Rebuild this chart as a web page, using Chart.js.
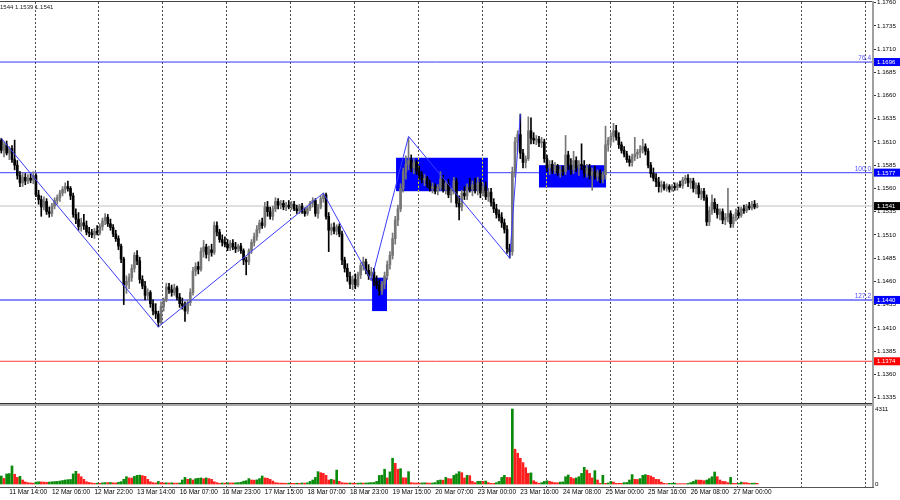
<!DOCTYPE html>
<html><head><meta charset="utf-8">
<script src="https://cdn.jsdelivr.net/npm/chart.js@4/dist/chart.umd.min.js"></script>
<style>
html,body{margin:0;padding:0;background:#fff;width:900px;height:500px;overflow:hidden}
#c1{position:absolute;left:0;top:0}
#c2{position:absolute;left:0;top:404px}
</style></head><body>
<canvas id="c1" width="900" height="404"></canvas>
<canvas id="c2" width="900" height="96"></canvas>
<script>
// ---------- DATA ----------
const slotCount = 328;
const daySlots = [13,37,61,85,109,133,157,181,205,229,253,277,301,325];
const tickSlots = [3,19,35,51,67,83,99,115,131,147,163,179,195,211,227,243,259,275];
const tickLabels = ['11 Mar 14:00','12 Mar 06:00','12 Mar 22:00','13 Mar 14:00','16 Mar 07:00','16 Mar 23:00','17 Mar 15:00','18 Mar 07:00','18 Mar 23:00','19 Mar 15:00','20 Mar 07:00','23 Mar 00:00','23 Mar 16:00','24 Mar 08:00','25 Mar 00:00','25 Mar 16:00','26 Mar 08:00','27 Mar 00:00'];
const yTicks = [1.1335,1.1360,1.1385,1.1410,1.1435,1.1460,1.1485,1.1510,1.1535,1.1560,1.1585,1.1610,1.1635,1.1660,1.1685,1.1710,1.1735,1.1760];
const priceMin = 1.13291, priceMax = 1.17606;
const volTicks = [0, 4311];
const volMin = -172, volMax = 4483;

const opens = [
1.1612,1.1601,1.1607,1.1598,1.1603,1.1591,1.1585,1.1574,1.1566,1.1572,
1.1568,1.1571,1.1569,1.1574,1.1553,1.1548,1.1540,1.1546,1.1535,1.1533,
1.1541,1.1547,1.1550,1.1555,1.1559,1.1562,1.1560,1.1552,1.1532,1.1527,
1.1519,1.1523,1.1520,1.1513,1.1512,1.1510,1.1514,1.1512,1.1519,1.1525,
1.1529,1.1522,1.1518,1.1511,1.1506,1.1498,1.1484,1.1456,1.1460,1.1464,
1.1474,1.1488,1.1482,1.1462,1.1455,1.1445,1.1448,1.1436,1.1428,1.1425,
1.1416,1.1433,1.1440,1.1454,1.1451,1.1448,1.1453,1.1443,1.1436,1.1434,
1.1428,1.1437,1.1448,1.1471,1.1476,1.1473,1.1492,1.1497,1.1489,1.1494,
1.1491,1.1520,1.1513,1.1505,1.1502,1.1500,1.1496,1.1501,1.1497,1.1495,
1.1498,1.1493,1.1483,1.1481,1.1493,1.1502,1.1508,1.1516,1.1523,1.1520,
1.1540,1.1535,1.1530,1.1538,1.1546,1.1542,1.1544,1.1540,1.1542,1.1540,
1.1543,1.1538,1.1536,1.1541,1.1535,1.1533,1.1539,1.1544,1.1547,1.1533,
1.1540,1.1549,1.1553,1.1530,1.1515,1.1518,1.1514,1.1519,1.1511,1.1483,
1.1474,1.1465,1.1457,1.1462,1.1456,1.1467,1.1477,1.1481,1.1472,1.1466,
1.1470,1.1460,1.1456,1.1450,1.1457,1.1466,1.1478,1.1488,1.1506,1.1526,
1.1538,1.1560,1.1578,1.1586,1.1590,1.1582,1.1588,1.1579,1.1574,1.1569,
1.1571,1.1565,1.1560,1.1562,1.1557,1.1561,1.1570,1.1559,1.1565,1.1553,
1.1557,1.1568,1.1544,1.1540,1.1555,1.1552,1.1561,1.1559,1.1564,1.1558,
1.1566,1.1555,1.1562,1.1551,1.1556,1.1545,1.1538,1.1532,1.1529,1.1523,
1.1516,1.1495,1.1492,1.1578,1.1610,1.1618,1.1598,1.1588,1.1592,1.1622,
1.1614,1.1612,1.1613,1.1609,1.1610,1.1592,1.1582,1.1586,1.1579,1.1584,
1.1577,1.1580,1.1578,1.1596,1.1585,1.1580,1.1590,1.1582,1.1586,1.1584,
1.1576,1.1582,1.1574,1.1578,1.1573,1.1577,1.1570,1.1575,1.1607,1.1612,
1.1616,1.1622,1.1615,1.1607,1.1601,1.1597,1.1591,1.1588,1.1594,1.1597,
1.1599,1.1602,1.1605,1.1600,1.1585,1.1576,1.1571,1.1567,1.1562,1.1564,
1.1560,1.1562,1.1559,1.1562,1.1561,1.1564,1.1563,1.1569,1.1571,1.1566,
1.1568,1.1560,1.1563,1.1554,1.1557,1.1550,1.1524,1.1536,1.1545,1.1538,
1.1532,1.1535,1.1526,1.1529,1.1533,1.1522,1.1529,1.1534,1.1531,1.1538,
1.1536,1.1541,1.1539,1.1543,1.1540];

const highs = [
1.1614,1.1610,1.1611,1.1605,1.1606,1.1612,1.1590,1.1578,1.1577,1.1576,
1.1575,1.1576,1.1578,1.1576,1.1558,1.1552,1.1551,1.1549,1.1540,1.1544,
1.1550,1.1553,1.1558,1.1562,1.1566,1.1568,1.1562,1.1555,1.1538,1.1534,
1.1528,1.1532,1.1525,1.1518,1.1516,1.1517,1.1520,1.1522,1.1528,1.1533,
1.1532,1.1527,1.1521,1.1515,1.1509,1.1500,1.1486,1.1466,1.1468,1.1478,
1.1491,1.1493,1.1486,1.1466,1.1460,1.1452,1.1450,1.1440,1.1436,1.1428,
1.1438,1.1442,1.1458,1.1458,1.1456,1.1457,1.1455,1.1447,1.1442,1.1438,
1.1440,1.1452,1.1475,1.1480,1.1481,1.1496,1.1504,1.1500,1.1498,1.1500,
1.1524,1.1524,1.1516,1.1510,1.1508,1.1505,1.1504,1.1505,1.1502,1.1500,
1.1501,1.1495,1.1486,1.1495,1.1505,1.1512,1.1520,1.1526,1.1528,1.1545,
1.1546,1.1540,1.1541,1.1550,1.1549,1.1547,1.1547,1.1545,1.1547,1.1546,
1.1546,1.1542,1.1543,1.1544,1.1539,1.1541,1.1546,1.1550,1.1549,1.1543,
1.1552,1.1555,1.1555,1.1534,1.1522,1.1523,1.1521,1.1522,1.1514,1.1486,
1.1479,1.1470,1.1466,1.1468,1.1470,1.1480,1.1486,1.1484,1.1478,1.1475,
1.1474,1.1466,1.1462,1.1460,1.1470,1.1482,1.1492,1.1512,1.1530,1.1542,
1.1565,1.1582,1.1595,1.1614,1.1596,1.1592,1.1590,1.1584,1.1578,1.1575,
1.1573,1.1569,1.1566,1.1565,1.1564,1.1578,1.1574,1.1568,1.1570,1.1560,
1.1572,1.1571,1.1552,1.1558,1.1562,1.1565,1.1571,1.1568,1.1571,1.1572,
1.1570,1.1566,1.1567,1.1560,1.1560,1.1549,1.1543,1.1537,1.1534,1.1527,
1.1520,1.1500,1.1583,1.1615,1.1622,1.1640,1.1602,1.1595,1.1637,1.1636,
1.1620,1.1617,1.1616,1.1615,1.1613,1.1596,1.1590,1.1590,1.1588,1.1586,
1.1584,1.1584,1.1617,1.1600,1.1592,1.1600,1.1594,1.1590,1.1608,1.1590,
1.1586,1.1586,1.1582,1.1584,1.1580,1.1580,1.1578,1.1627,1.1615,1.1620,
1.1630,1.1628,1.1620,1.1610,1.1605,1.1600,1.1595,1.1597,1.1615,1.1602,
1.1606,1.1613,1.1608,1.1603,1.1588,1.1582,1.1576,1.1572,1.1568,1.1567,
1.1565,1.1564,1.1564,1.1566,1.1566,1.1568,1.1572,1.1574,1.1575,1.1571,
1.1571,1.1566,1.1566,1.1560,1.1560,1.1553,1.1540,1.1553,1.1549,1.1543,
1.1538,1.1538,1.1533,1.1560,1.1536,1.1532,1.1538,1.1540,1.1540,1.1542,
1.1543,1.1545,1.1546,1.1547,1.1544];

const lows = [
1.1598,1.1594,1.1596,1.1591,1.1588,1.1580,1.1570,1.1562,1.1562,1.1564,
1.1565,1.1566,1.1565,1.1551,1.1543,1.1530,1.1537,1.1532,1.1529,1.1530,
1.1538,1.1543,1.1546,1.1552,1.1555,1.1557,1.1548,1.1529,1.1522,1.1515,
1.1514,1.1516,1.1510,1.1508,1.1507,1.1506,1.1510,1.1510,1.1515,1.1521,
1.1519,1.1515,1.1508,1.1503,1.1494,1.1480,1.1435,1.1447,1.1452,1.1460,
1.1470,1.1478,1.1458,1.1452,1.1440,1.1440,1.1432,1.1424,1.1420,1.1411,
1.1414,1.1428,1.1438,1.1447,1.1444,1.1445,1.1440,1.1432,1.1430,1.1417,
1.1425,1.1434,1.1445,1.1466,1.1468,1.1471,1.1486,1.1485,1.1482,1.1487,
1.1489,1.1509,1.1502,1.1498,1.1497,1.1493,1.1493,1.1494,1.1491,1.1492,
1.1490,1.1478,1.1467,1.1478,1.1490,1.1498,1.1504,1.1512,1.1517,1.1518,
1.1530,1.1527,1.1526,1.1535,1.1538,1.1538,1.1537,1.1536,1.1538,1.1537,
1.1536,1.1533,1.1533,1.1533,1.1530,1.1531,1.1536,1.1540,1.1530,1.1528,
1.1538,1.1545,1.1527,1.1492,1.1510,1.1511,1.1510,1.1508,1.1478,1.1470,
1.1460,1.1452,1.1451,1.1452,1.1454,1.1463,1.1472,1.1468,1.1462,1.1461,
1.1455,1.1452,1.1445,1.1446,1.1452,1.1462,1.1473,1.1484,1.1500,1.1520,
1.1535,1.1556,1.1570,1.1580,1.1578,1.1576,1.1575,1.1570,1.1566,1.1563,
1.1561,1.1557,1.1555,1.1554,1.1553,1.1558,1.1556,1.1554,1.1550,1.1545,
1.1554,1.1540,1.1526,1.1536,1.1548,1.1548,1.1556,1.1552,1.1555,1.1553,
1.1550,1.1552,1.1548,1.1546,1.1541,1.1534,1.1528,1.1525,1.1518,1.1512,
1.1490,1.1485,1.1488,1.1572,1.1600,1.1592,1.1582,1.1582,1.1590,1.1608,
1.1608,1.1607,1.1605,1.1604,1.1588,1.1578,1.1575,1.1576,1.1576,1.1574,
1.1572,1.1574,1.1575,1.1580,1.1575,1.1576,1.1578,1.1574,1.1580,1.1572,
1.1572,1.1570,1.1558,1.1570,1.1568,1.1566,1.1566,1.1570,1.1600,1.1606,
1.1610,1.1612,1.1603,1.1598,1.1594,1.1588,1.1584,1.1584,1.1590,1.1592,
1.1593,1.1598,1.1596,1.1582,1.1572,1.1568,1.1562,1.1556,1.1556,1.1558,
1.1557,1.1556,1.1557,1.1558,1.1558,1.1561,1.1560,1.1565,1.1562,1.1560,
1.1556,1.1554,1.1550,1.1548,1.1547,1.1520,1.1520,1.1532,1.1534,1.1528,
1.1526,1.1522,1.1521,1.1524,1.1518,1.1518,1.1525,1.1528,1.1529,1.1533,
1.1534,1.1537,1.1537,1.1538,1.1539];

const closes = [
1.1601,1.1607,1.1598,1.1603,1.1591,1.1585,1.1574,1.1566,1.1572,1.1568,
1.1571,1.1569,1.1574,1.1553,1.1548,1.1540,1.1546,1.1535,1.1533,1.1541,
1.1547,1.1550,1.1555,1.1559,1.1562,1.1560,1.1552,1.1532,1.1527,1.1519,
1.1523,1.1520,1.1513,1.1512,1.1510,1.1514,1.1512,1.1519,1.1525,1.1529,
1.1522,1.1518,1.1511,1.1506,1.1498,1.1484,1.1456,1.1460,1.1464,1.1474,
1.1488,1.1482,1.1462,1.1455,1.1445,1.1448,1.1436,1.1428,1.1425,1.1416,
1.1433,1.1440,1.1454,1.1451,1.1448,1.1453,1.1443,1.1436,1.1434,1.1428,
1.1437,1.1448,1.1471,1.1476,1.1473,1.1492,1.1497,1.1489,1.1494,1.1491,
1.1520,1.1513,1.1505,1.1502,1.1500,1.1496,1.1501,1.1497,1.1495,1.1498,
1.1493,1.1483,1.1481,1.1493,1.1502,1.1508,1.1516,1.1523,1.1520,1.1540,
1.1535,1.1530,1.1538,1.1546,1.1542,1.1544,1.1540,1.1542,1.1540,1.1543,
1.1538,1.1536,1.1541,1.1535,1.1533,1.1539,1.1544,1.1547,1.1533,1.1540,
1.1549,1.1553,1.1530,1.1515,1.1518,1.1514,1.1519,1.1511,1.1483,1.1474,
1.1465,1.1457,1.1462,1.1456,1.1467,1.1477,1.1481,1.1472,1.1466,1.1470,
1.1460,1.1456,1.1450,1.1457,1.1466,1.1478,1.1488,1.1506,1.1526,1.1538,
1.1560,1.1578,1.1586,1.1590,1.1582,1.1588,1.1579,1.1574,1.1569,1.1571,
1.1565,1.1560,1.1562,1.1557,1.1561,1.1570,1.1559,1.1565,1.1553,1.1557,
1.1568,1.1544,1.1540,1.1555,1.1552,1.1561,1.1559,1.1564,1.1558,1.1566,
1.1555,1.1562,1.1551,1.1556,1.1545,1.1538,1.1532,1.1529,1.1523,1.1516,
1.1495,1.1492,1.1578,1.1610,1.1618,1.1598,1.1588,1.1592,1.1622,1.1614,
1.1612,1.1613,1.1609,1.1610,1.1592,1.1582,1.1586,1.1579,1.1584,1.1577,
1.1580,1.1578,1.1596,1.1585,1.1580,1.1590,1.1582,1.1586,1.1584,1.1576,
1.1582,1.1574,1.1578,1.1573,1.1577,1.1570,1.1575,1.1607,1.1612,1.1616,
1.1622,1.1615,1.1607,1.1601,1.1597,1.1591,1.1588,1.1594,1.1597,1.1599,
1.1602,1.1605,1.1600,1.1585,1.1576,1.1571,1.1567,1.1562,1.1564,1.1560,
1.1562,1.1559,1.1562,1.1561,1.1564,1.1563,1.1569,1.1571,1.1566,1.1568,
1.1560,1.1563,1.1554,1.1557,1.1550,1.1524,1.1536,1.1545,1.1538,1.1532,
1.1535,1.1526,1.1529,1.1533,1.1522,1.1529,1.1534,1.1531,1.1538,1.1536,
1.1541,1.1539,1.1543,1.1540,1.1541];

const volumes = [
460,320,580,600,1040,560,380,440,230,120,80,60,50,
110,130,120,110,100,110,130,140,150,170,200,230,250,260,580,730,580,420,270,130,90,60,40,50,
40,70,80,80,90,70,60,100,135,270,420,350,340,440,500,510,480,440,270,130,80,60,150,80,
60,70,60,70,50,50,60,
230,380,270,310,230,310,330,350,310,350,310,270,130,80,40,
60,50,70,60,60,70,80,100,160,
190,310,230,220,240,310,460,350,330,270,170,80,60,50,
50,40,50,40,40,50,40,60,50,70,
150,230,380,710,650,610,500,230,270,230,800,150,80,60,50,
60,50,40,50,60,50,60,70,80,90,
150,490,510,850,350,700,1480,1190,850,880,360,350,710,80,60,
60,50,60,70,60,50,60,80,200,
230,220,380,310,300,500,580,710,650,350,500,480,150,80,
150,160,150,170,80,40,40,80,150,380,500,380,370,
4311,2000,1770,1480,1230,940,615,640,190,110,40,
80,150,190,150,110,80,70,110,120,420,520,380,310,350,420,610,960,800,610,350,770,230,40,500,40,
60,150,110,40,40,40,80,90,230,540,270,260,310,500,540,500,460,380,270,260,110,40,
20,40,45,50,20,20,20,18,40,80,150,230,225,220,190,230,310,420,690,420,230,150,140,80,380,
40,35,40,110,80,75,40,45,50,40];

const zigzagBars = [0,59,121,139,153,191,195];
const zigzagPrices = [1.1614,1.1411,1.1555,1.1461,1.1616,1.1485,1.1640];

const zoneFrom = [139.3,148.3,202.0];
const zoneTo = [144.9,182.8,227.2];
const zoneTop = [1.1464,1.1593,1.1585];
const zoneBottom = [1.1428,1.1557,1.1561];

const fibPrices = [1.1696,1.1577,1.1440];
const fibNames = ['76.4','100.0','127.2'];
const supportPrice = 1.1374;

// ---------- BUILD ----------
const FONT = "'Liberation Sans', Arial, sans-serif";
Chart.defaults.font.family = FONT;
Chart.defaults.color = '#000';

const slots = Array.from({length: slotCount}, (_, i) => i);
const last = closes.length - 1;
const bull = '#767676', bear = '#000000';
const candleColors = closes.map((c, i) => c >= opens[i] ? bull : bear);
const wicks = lows.map((l, i) => [l, highs[i]]);
const bodies = opens.map((o, i) => [o, closes[i]]);
const zigzag = zigzagBars.map((b, i) => ({x: b, y: zigzagPrices[i]}));
const volColors = volumes.map((v, i) => (i === 0 || v > volumes[i - 1]) ? '#0a8a0a' : '#ff1f1f');

function dayLines(chart) {
  const {ctx, chartArea: a, scales: {x}} = chart;
  ctx.save();
  ctx.strokeStyle = '#4a4a4a'; ctx.lineWidth = 1; ctx.setLineDash([2, 2]);
  daySlots.forEach(b => {
    const gx = Math.round(x.getPixelForValue(b - 0.5)) + 0.5;
    ctx.beginPath(); ctx.moveTo(gx, a.top); ctx.lineTo(gx, a.bottom); ctx.stroke();
  });
  ctx.restore();
}

function hline(ctx, x0, x1, yy) { ctx.beginPath(); ctx.moveTo(x0, yy); ctx.lineTo(x1, yy); ctx.stroke(); }

const pricePlugin = {
  id: 'pricePlugin',
  beforeDatasetsDraw(chart) {
    const {ctx, chartArea: a, scales: {x, y}} = chart;
    dayLines(chart);
    ctx.save();
    ctx.beginPath(); ctx.rect(a.left, a.top, a.right - a.left, a.bottom - a.top); ctx.clip();
    // bid line
    ctx.strokeStyle = '#d6d6d6'; ctx.lineWidth = 1.5;
    hline(ctx, a.left, a.right, y.getPixelForValue(closes[last]));
    // fibo levels and support line
    fibPrices.forEach((p, i) => {
      ctx.strokeStyle = i === 0 ? '#3434ff' : '#6262ff'; ctx.lineWidth = i === 0 ? 1 : 1.4;
      hline(ctx, a.left, a.right, y.getPixelForValue(p));
    });
    ctx.strokeStyle = '#ff3a3a'; ctx.lineWidth = 1;
    hline(ctx, a.left, a.right, y.getPixelForValue(supportPrice));
    // zones
    for (let i = 0; i < zoneFrom.length; i++) {
      const x0 = x.getPixelForValue(zoneFrom[i]), x1 = x.getPixelForValue(zoneTo[i]);
      const y0 = y.getPixelForValue(zoneTop[i]), y1 = y.getPixelForValue(zoneBottom[i]);
      ctx.fillStyle = '#0000ff';
      ctx.fillRect(x0, y0, x1 - x0, y1 - y0);
      ctx.strokeStyle = '#f0f000'; ctx.lineWidth = 1; ctx.setLineDash([2, 2]);
      daySlots.forEach(b => {
        const gx = Math.round(x.getPixelForValue(b - 0.5)) + 0.5;
        if (gx > x0 && gx < x1) { ctx.beginPath(); ctx.moveTo(gx, y0); ctx.lineTo(gx, y1); ctx.stroke(); }
      });
      ctx.setLineDash([]);
    }
    ctx.restore();
  },
  afterDatasetsDraw(chart) {
    const {ctx, chartArea: a, scales: {y}} = chart;
    ctx.save();
    ctx.font = '6.5px ' + FONT; ctx.textAlign = 'right'; ctx.textBaseline = 'bottom';
    ctx.fillStyle = '#5050ff';
    fibPrices.forEach((p, i) => {
      ctx.fillText(fibNames[i], a.right - 2, y.getPixelForValue(p) - 0.5);
    });
    ctx.restore();
  },
  afterDraw(chart) {
    const {ctx, chartArea: a, scales: {y}} = chart;
    ctx.save();
    ctx.fillStyle = '#444'; ctx.fillRect(0, 1, a.right + 1, 1);
    ctx.fillStyle = '#333'; ctx.fillRect(0, a.bottom, a.right + 1, 1);
    ctx.fillStyle = '#a0a0a0'; ctx.fillRect(a.right - 1, 1, 2, a.bottom);
    ctx.font = '6px ' + FONT; ctx.textBaseline = 'middle'; ctx.textAlign = 'left';
    const tags = fibPrices.map(p => [p, '#0000ff']).concat([[supportPrice, '#ff0000'], [closes[last], '#000000']]);
    tags.forEach(([p, col]) => {
      const yy = y.getPixelForValue(p);
      ctx.fillStyle = col; ctx.fillRect(a.right + 1, yy - 4, 26, 8);
      ctx.fillStyle = '#fff'; ctx.fillText(p.toFixed(4), a.right + 4, yy + 0.5);
    });
    ctx.fillStyle = '#222'; ctx.textBaseline = 'alphabetic';
    ctx.fillText(highs[last].toFixed(4) + ' ' + lows[last].toFixed(4) + ' ' + closes[last].toFixed(4), -5, 9);
    ctx.restore();
  }
};

const volPlugin = {
  id: 'volPlugin',
  beforeDatasetsDraw(chart) { dayLines(chart); },
  afterDraw(chart) {
    const {ctx, chartArea: a} = chart;
    ctx.save();
    ctx.fillStyle = '#a8a8a8'; ctx.fillRect(0, 0, a.right + 1, 2);
    ctx.fillStyle = '#a0a0a0'; ctx.fillRect(a.right - 1, 0, 2, a.bottom);
    ctx.fillStyle = '#555'; ctx.fillRect(0, a.bottom, a.right + 1, 1);
    ctx.restore();
  }
};

const common = {
  responsive: false, animation: false, devicePixelRatio: 1, events: [],
  plugins: {legend: {display: false}, tooltip: {enabled: false}}
};

new Chart(document.getElementById('c1'), {
  type: 'bar',
  data: {
    labels: slots,
    datasets: [
      {type: 'line', data: zigzag, borderColor: '#3b3bff', borderWidth: 1, pointRadius: 0, tension: 0, order: 0},
      {data: bodies, backgroundColor: candleColors, barThickness: 2, grouped: false, minBarLength: 1, order: 1},
      {data: wicks, backgroundColor: candleColors, barThickness: 1, grouped: false, order: 2}
    ]
  },
  options: Object.assign({}, common, {
    layout: {padding: {top: 2, bottom: 1, left: 0, right: 0}},
    scales: {
      x: {type: 'category', display: false, offset: true},
      y: {
        position: 'right', min: priceMin, max: priceMax,
        afterBuildTicks: s => { s.ticks = yTicks.map(v => ({value: v})); },
        afterFit: s => { s.width = 27; s.paddingTop = 0; s.paddingBottom = 0; },
        ticks: {font: {size: 6.2}, padding: 1, color: '#000', callback: v => Number(v).toFixed(4)},
        grid: {drawOnChartArea: false, drawTicks: true, tickLength: 3, tickColor: '#333', color: '#333'},
        border: {display: false}
      }
    }
  }),
  plugins: [pricePlugin]
});

new Chart(document.getElementById('c2'), {
  type: 'bar',
  data: {
    labels: slots,
    datasets: [{data: volumes, backgroundColor: volColors, barThickness: 2}]
  },
  options: Object.assign({}, common, {
    layout: {padding: {top: 2, bottom: 0, left: 0, right: 0}},
    scales: {
      x: {
        type: 'category', offset: true,
        grid: {display: false, drawTicks: false}, border: {display: false},
        ticks: {autoSkip: false, maxRotation: 0, minRotation: 0, align: 'start', padding: 1,
          font: {size: 6.5}, color: '#000',
          callback: (v, i) => { const k = tickSlots.indexOf(i); return k >= 0 ? tickLabels[k] : ''; }},
        afterFit: s => { s.height = 13; s.paddingLeft = 0; s.paddingRight = 0; }
      },
      y: {
        position: 'right', min: volMin, max: volMax,
        afterBuildTicks: s => { s.ticks = volTicks.map(v => ({value: v})); },
        afterFit: s => { s.width = 27; s.paddingTop = 0; s.paddingBottom = 0; },
        ticks: {font: {size: 6.2}, padding: 2, color: '#000', callback: v => String(v)},
        grid: {display: false, drawTicks: false}, border: {display: false}
      }
    }
  }),
  plugins: [volPlugin]
});
</script>
</body></html>
